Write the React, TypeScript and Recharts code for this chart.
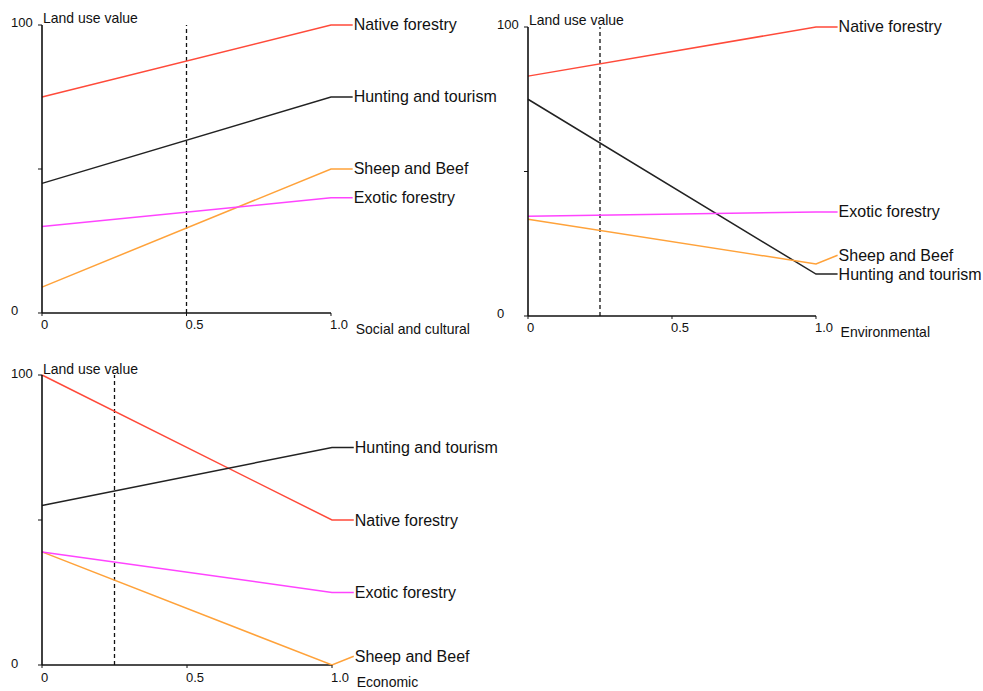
import { LineChart, Line, XAxis, YAxis, ReferenceLine, LabelList } from "recharts";

// x positions: start, end of the scale, and the spot where each label sits
const xPoints = [0, 1, 1.075];
const xTicks = [0, 0.5, 1];
const yTicks = [0, 50, 100];

const socialNative = [75, 100, 100];
const socialHunting = [45, 75, 75];
const socialSheep = [9, 50, 50];
const socialExotic = [30, 40, 40];

const envNative = [83, 100, 100];
const envHunting = [75, 14.5, 14.5];
const envSheep = [33.5, 18, 21];
const envExotic = [34.5, 36, 36];

const econNative = [100, 50, 50];
const econHunting = [55, 75, 75];
const econSheep = [39, 0, 3];
const econExotic = [39, 25, 25];

const FONT = '"Liberation Sans", Arial, sans-serif';

const SERIES = [
  { key: "native", name: "Native forestry", color: "#ff4a3a" },
  { key: "hunting", name: "Hunting and tourism", color: "#222222" },
  { key: "sheep", name: "Sheep and Beef", color: "#ffa23a" },
  { key: "exotic", name: "Exotic forestry", color: "#ff44ff" },
];

function buildRows(native: number[], hunting: number[], sheep: number[], exotic: number[]) {
  return xPoints.map((x, i) => ({
    x,
    native: native[i],
    hunting: hunting[i],
    sheep: sheep[i],
    exotic: exotic[i],
  }));
}

const YTick = (props: any) => {
  const { x, y, payload } = props;
  if (payload.value === 50) return null;
  return (
    <text x={x - 25} y={y + 2.5} fontSize={13} fontFamily={FONT} fill="#111">
      {payload.value}
    </text>
  );
};

const XTick = (props: any) => {
  const { x, y, payload } = props;
  return (
    <text x={x - 1} y={y + 11.5} fontSize={13} fontFamily={FONT} fill="#111">
      {payload.value === 1 ? "1.0" : payload.value}
    </text>
  );
};

interface PanelProps {
  left: number;
  top: number;
  plotW: number;
  plotH: number;
  axisName: string;
  marker: number;
  rows: ReturnType<typeof buildRows>;
}

function Panel({ left, top, plotW, plotH, axisName, marker, rows }: PanelProps) {
  const margin = { top: 25, left: 6, right: 150, bottom: 2 };
  const width = margin.left + 36 + plotW * 1.075 + margin.right;
  const height = margin.top + plotH + 30 + margin.bottom;
  return (
    <div style={{ position: "absolute", left: left - 42, top: top - 25 }}>
      <LineChart width={width} height={height} data={rows} margin={margin}>
        <XAxis
          type="number"
          dataKey="x"
          domain={[0, 1.075]}
          ticks={xTicks}
          axisLine={false}
          tickSize={3}
          tickMargin={2}
          tickLine={{ stroke: "#111" }}
          tick={<XTick />}
          height={30}
          label={{
            content: (p: any) => (
              <text
                x={p.viewBox.x + p.viewBox.width + 3}
                y={p.viewBox.y + 21.5}
                fontSize={14}
                fontFamily={FONT}
                fill="#111"
              >
                {axisName}
              </text>
            ),
          }}
        />
        <YAxis
          type="number"
          domain={[0, 100]}
          ticks={yTicks}
          width={36}
          tickSize={4}
          tickMargin={2}
          axisLine={{ stroke: "#111", strokeWidth: 1.6 }}
          tickLine={{ stroke: "#111" }}
          tick={<YTick />}
          label={{
            content: (p: any) => (
              <text
                x={p.viewBox.x + p.viewBox.width + 1}
                y={p.viewBox.y - 1.5}
                fontSize={14}
                fontFamily={FONT}
                fill="#111"
              >
                Land use value
              </text>
            ),
          }}
        />
        <ReferenceLine
          segment={[
            { x: 0, y: 0 },
            { x: 1, y: 0 },
          ]}
          stroke="#111"
          strokeWidth={1.6}
        />
        <ReferenceLine x={marker} stroke="#111" strokeWidth={1.3} strokeDasharray="4 3" />
        {SERIES.map((s) => (
          <Line
            key={s.key}
            type="linear"
            dataKey={s.key}
            stroke={s.color}
            strokeWidth={1.5}
            dot={false}
            isAnimationActive={false}
          >
            <LabelList
              dataKey={s.key}
              content={(p: any) =>
                p.index === 2 ? (
                  <text
                    x={p.x + 1}
                    y={p.y + 5.5}
                    fontSize={16}
                    fontFamily={FONT}
                    fill="#111"
                  >
                    {s.name}
                  </text>
                ) : null
              }
            />
          </Line>
        ))}
      </LineChart>
    </div>
  );
}

export default function App() {
  return (
    <div
      style={{
        position: "fixed",
        left: 0,
        top: 0,
        width: 983,
        height: 691,
        background: "#fff",
        overflow: "hidden",
      }}
    >
      <Panel
        left={42}
        top={25}
        plotW={289}
        plotH={288}
        axisName="Social and cultural"
        marker={0.5}
        rows={buildRows(socialNative, socialHunting, socialSheep, socialExotic)}
      />
      <Panel
        left={528}
        top={27}
        plotW={288}
        plotH={289}
        axisName="Environmental"
        marker={0.25}
        rows={buildRows(envNative, envHunting, envSheep, envExotic)}
      />
      <Panel
        left={42}
        top={375}
        plotW={290}
        plotH={290}
        axisName="Economic"
        marker={0.25}
        rows={buildRows(econNative, econHunting, econSheep, econExotic)}
      />
    </div>
  );
}
